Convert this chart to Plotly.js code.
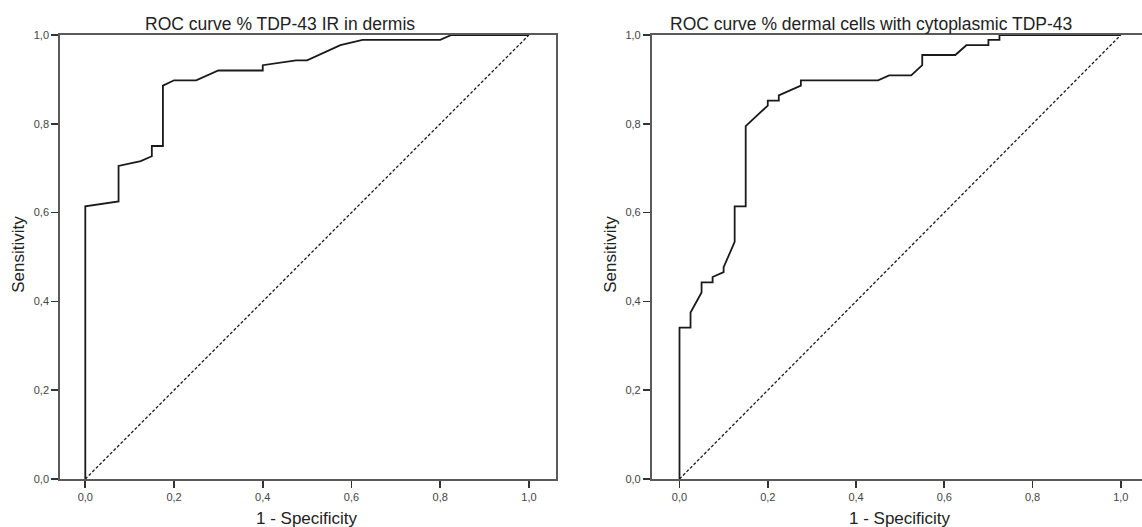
<!DOCTYPE html>
<html>
<head>
<meta charset="utf-8">
<script src="https://cdn.plot.ly/plotly-3.0.1.min.js"></script>
<style>
  html, body { margin: 0; padding: 0; background: #ffffff; }
  #chart { width: 1142px; height: 527px; }
</style>
</head>
<body>
<div id="chart"></div>
<script>
// ---- Data ----
// Left panel: ROC curve % TDP-43 IR in dermis
const leftFpr  = [0, 0, 0.075, 0.075, 0.125, 0.15, 0.15, 0.175, 0.175, 0.2, 0.25, 0.3, 0.4, 0.4, 0.475, 0.5, 0.575, 0.625, 0.8, 0.825, 1.0];
const leftTpr  = [0, 0.614, 0.625, 0.705, 0.716, 0.727, 0.75, 0.75, 0.886, 0.898, 0.898, 0.92, 0.92, 0.932, 0.943, 0.943, 0.977, 0.989, 0.989, 1.0, 1.0];

// Right panel: ROC curve % dermal cells with cytoplasmic TDP-43
const rightFpr = [0, 0, 0.025, 0.025, 0.05, 0.05, 0.075, 0.075, 0.1, 0.1, 0.125, 0.125, 0.15, 0.15, 0.2, 0.2, 0.225, 0.225, 0.275, 0.275, 0.45, 0.475, 0.525, 0.55, 0.55, 0.625, 0.65, 0.7, 0.7, 0.725, 0.725, 1.0];
const rightTpr = [0, 0.341, 0.341, 0.375, 0.420, 0.443, 0.443, 0.455, 0.466, 0.477, 0.534, 0.614, 0.614, 0.795, 0.841, 0.852, 0.852, 0.864, 0.886, 0.898, 0.898, 0.909, 0.909, 0.932, 0.955, 0.955, 0.977, 0.977, 0.989, 0.989, 1.0, 1.0];

// Reference (chance) line
const diagX = [0, 1];
const diagY = [0, 1];

// Tick values and labels (comma decimals)
const tickVals   = [0, 0.2, 0.4, 0.6, 0.8, 1.0];
const tickLabels = ["0,0", "0,2", "0,4", "0,6", "0,8", "1,0"];

const leftTitle  = "ROC curve % TDP-43 IR in dermis";
const rightTitle = "ROC curve % dermal cells with cytoplasmic TDP-43";
const xTitle = "1 - Specificity";
const yTitle = "Sensitivity";

// ---- Figure ----
const W = 1142, H = 527;
const FONT = "Liberation Sans, Arial, Helvetica, sans-serif";

const curveLine = { color: "#1a1a1a", width: 1.8 };
const diagLine  = { color: "#1a1a1a", width: 1.3, dash: "3px,2px" };

const traces = [
  { x: leftFpr,  y: leftTpr,  xaxis: "x",  yaxis: "y",  mode: "lines", line: curveLine, hoverinfo: "skip" },
  { x: diagX,    y: diagY,    xaxis: "x",  yaxis: "y",  mode: "lines", line: diagLine,  hoverinfo: "skip" },
  { x: rightFpr, y: rightTpr, xaxis: "x2", yaxis: "y2", mode: "lines", line: curveLine, hoverinfo: "skip" },
  { x: diagX,    y: diagY,    xaxis: "x2", yaxis: "y2", mode: "lines", line: diagLine,  hoverinfo: "skip" }
];

function axisBase(extra) {
  return Object.assign({
    showgrid: false, zeroline: false,
    showline: true, linecolor: "#5a5a5a", linewidth: 1.8,
    ticks: "outside", ticklen: 7, tickwidth: 1.6, tickcolor: "#333333",
    tickvals: tickVals, ticktext: tickLabels,
    tickfont: { family: FONT, size: 11, color: "#444444" },
    fixedrange: true
  }, extra);
}

const titleFont = { family: FONT, size: 17.5, color: "#222222" };
const axTitleFont = { family: FONT, size: 17, color: "#222222" };

const layout = {
  width: W, height: H,
  margin: { l: 0, r: 0, t: 35, b: 48, pad: 0 },
  paper_bgcolor: "#ffffff", plot_bgcolor: "#ffffff",
  showlegend: false,
  font: { family: FONT, color: "#222222" },
  xaxis:  axisBase({ domain: [60 / W, 556 / W], range: [-0.057, 1.061], anchor: "y", mirror: true }),
  yaxis:  axisBase({ domain: [0, 1], range: [0, 1], anchor: "x", mirror: true }),
  xaxis2: axisBase({ domain: [651.7 / W, 1], range: [-0.063, 1.048], anchor: "y2", mirror: true }),
  yaxis2: axisBase({ domain: [0, 1], range: [0, 1], anchor: "x2", mirror: false }),
  annotations: [
    { text: leftTitle,  xref: "paper", yref: "paper", x: 280 / W, y: 1 + 11 / 444, xanchor: "center", yanchor: "middle", showarrow: false, font: titleFont },
    { text: rightTitle, xref: "paper", yref: "paper", x: 871 / W, y: 1 + 11 / 444, xanchor: "center", yanchor: "middle", showarrow: false, font: titleFont },
    { text: xTitle, xref: "x",  yref: "paper", x: 0.5, y: -39 / 444, xanchor: "center", yanchor: "middle", showarrow: false, font: axTitleFont },
    { text: xTitle, xref: "x2", yref: "paper", x: 0.5, y: -39 / 444, xanchor: "center", yanchor: "middle", showarrow: false, font: axTitleFont },
    { text: yTitle, xref: "paper", yref: "paper", x: 19 / W,  y: 0.505, textangle: -90, xanchor: "center", yanchor: "middle", showarrow: false, font: axTitleFont },
    { text: yTitle, xref: "paper", yref: "paper", x: 611 / W, y: 0.505, textangle: -90, xanchor: "center", yanchor: "middle", showarrow: false, font: axTitleFont }
  ]
};

Plotly.newPlot("chart", traces, layout, { displayModeBar: false, staticPlot: true, responsive: false });
</script>
</body>
</html>
